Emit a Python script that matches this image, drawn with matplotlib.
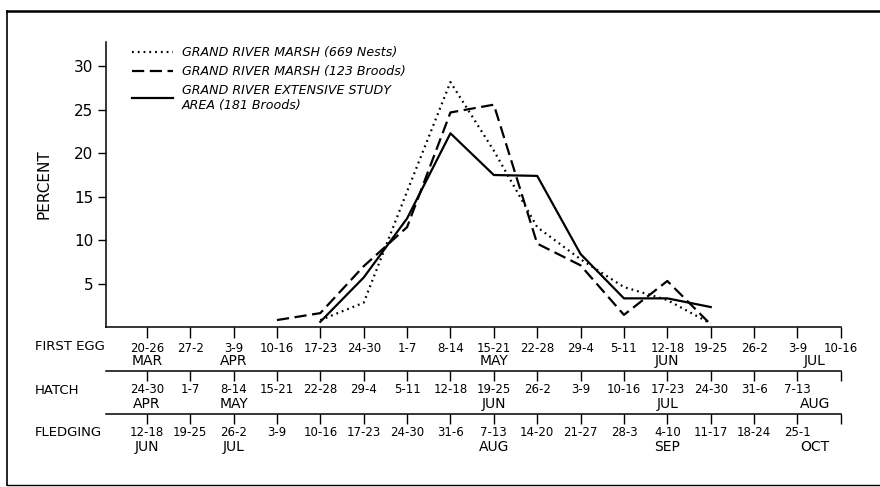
import matplotlib.pyplot as plt
import matplotlib.transforms as mtransforms
from matplotlib.lines import Line2D

plt.rcParams['font.family'] = 'DejaVu Sans'

# Weekly periods (tick index 0..16)
first_egg = ["20-26", "27-2", "3-9", "10-16", "17-23", "24-30", "1-7", "8-14", "15-21",
             "22-28", "29-4", "5-11", "12-18", "19-25", "26-2", "3-9", "10-16"]
hatch = ["24-30", "1-7", "8-14", "15-21", "22-28", "29-4", "5-11", "12-18", "19-25",
         "26-2", "3-9", "10-16", "17-23", "24-30", "31-6", "7-13", ""]
fledging = ["12-18", "19-25", "26-2", "3-9", "10-16", "17-23", "24-30", "31-6", "7-13",
            "14-20", "21-27", "28-3", "4-10", "11-17", "18-24", "25-1", ""]

month_pos = [0, 2, 8, 12, 15.4]
first_egg_months = ["MAR", "APR", "MAY", "JUN", "JUL"]
hatch_months = ["APR", "MAY", "JUN", "JUL", "AUG"]
fledging_months = ["JUN", "JUL", "AUG", "SEP", "OCT"]

# Percent of first eggs per week
nests_x = [4, 5, 6, 7, 8, 9, 10, 11, 12, 13]
nests = [0.8, 2.8, 15.6, 28.2, 20.3, 11.5, 7.8, 4.6, 3.1, 0.4]
broods_x = [3, 4, 5, 6, 7, 8, 9, 10, 11, 12, 13]
broods = [0.8, 1.6, 7.0, 11.5, 24.7, 25.6, 9.6, 7.1, 1.4, 5.3, 0.3]
ext_x = [4, 5, 6, 7, 8, 9, 10, 11, 12, 13]
ext = [0.6, 5.7, 12.5, 22.3, 17.5, 17.4, 8.4, 3.3, 3.3, 2.3]

fig = plt.figure(figsize=(8.8, 4.87), dpi=100)
ax = fig.add_axes([0.1205, 0.3285, 0.835, 0.585])

ax.plot(nests_x, nests, color='black', lw=1.6, linestyle=(0, (0.8, 1.8)),
        label="GRAND RIVER MARSH (669 Nests)")
ax.plot(broods_x, broods, color='black', lw=1.6, linestyle=(0, (5.5, 2.5)),
        label="GRAND RIVER MARSH (123 Broods)")
ax.plot(ext_x, ext, color='black', lw=1.6,
        label="GRAND RIVER EXTENSIVE STUDY\nAREA (181 Broods)")

ax.set_xlim(-0.94, 16)
ax.set_ylim(0, 32.8)
ax.set_yticks([5, 10, 15, 20, 25, 30])
ax.set_yticklabels(["5", "10", "15", "20", "25", "30"], fontsize=11)
ax.tick_params(axis='y', direction='out', length=6, width=1, pad=3)
ax.set_ylabel("PERCENT", fontsize=11, labelpad=16)

for s in ['top', 'right']:
    ax.spines[s].set_visible(False)
ax.spines['left'].set_linewidth(1.1)
ax.spines['bottom'].set_linewidth(1.1)

ticks = list(range(17))
ax.set_xticks(ticks)
ax.set_xticklabels(first_egg, fontsize=8.5)
ax.tick_params(axis='x', direction='out', length=8, width=1, pad=3)

row_y = [-0.154, -0.305]
for loc, labels in zip(row_y, [hatch, fledging]):
    sec = ax.secondary_xaxis(loc)
    sec.set_xticks(ticks)
    sec.set_xticklabels(labels, fontsize=8.5)
    sec.tick_params(axis='x', direction='out', length=7, width=1, pad=2)
    sec.spines['bottom'].set_linewidth(1.1)

trans = mtransforms.blended_transform_factory(ax.transData, ax.transAxes)
for y, months in zip([-0.118, -0.27, -0.42], [first_egg_months, hatch_months, fledging_months]):
    for x, m in zip(month_pos, months):
        ax.text(x, y, m, transform=trans, ha='center', va='center', fontsize=10)

fig.text(0.04, 1 - 347 / 487, "FIRST EGG", fontsize=9.5, va='center')
fig.text(0.04, 1 - 390 / 487, "HATCH", fontsize=9.5, va='center')
fig.text(0.04, 1 - 433 / 487, "FLEDGING", fontsize=9.5, va='center')

leg = ax.legend(loc='upper left', bbox_to_anchor=(0.036, 0.985), frameon=False,
                handlelength=3.2, handletextpad=0.7, borderaxespad=0, borderpad=0,
                labelspacing=0.45, prop={'style': 'italic', 'size': 9.1})

# page border
fig.add_artist(Line2D([7 / 880, 1], [1 - 11 / 487, 1 - 11 / 487], color='black', lw=1.8))
fig.add_artist(Line2D([7 / 880, 7 / 880], [1 - 11 / 487, 1 - 485 / 487], color='black', lw=1.2))
fig.add_artist(Line2D([7 / 880, 1], [1 - 485 / 487, 1 - 485 / 487], color='black', lw=1.0))

fig.savefig("out.png", dpi=100)
